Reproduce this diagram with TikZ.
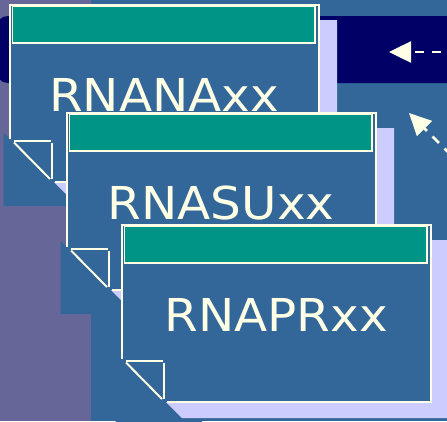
\documentclass[tikz,border=0pt]{standalone}
\usepackage{fontspec}
\newfontfamily\labfont{DejaVu Sans}
\usetikzlibrary{arrows.meta}
\definecolor{bgpurple}{HTML}{666699}
\definecolor{bgblue}{HTML}{336699}
\definecolor{navyband}{HTML}{000066}
\definecolor{tealbar}{HTML}{009486}
\definecolor{shadowlav}{HTML}{CCCCFF}
\definecolor{creamc}{HTML}{FFFFE6}
\tikzset{
  cardline/.style={draw=creamc, line width=2pt},
  titlebar/.style={fill=tealbar, draw=creamc, line width=1.5pt},
  cardtext/.style={text=creamc, font=\labfont\fontsize{45.3}{50}\selectfont, xscale=1.07, anchor=base, inner sep=0pt},
  dasharrow/.style={draw=creamc, line width=2.5pt, dash pattern=on 9pt off 8pt, -{Triangle[length=22pt,width=21pt]}},
  doccard/.pic={
    \fill[bgblue] (-6.5,127.5) -- (43,177) -- (80,177) -- (80,201) -- (-6.5,201) -- cycle;
    \fill[shadowlav] (17,15) -- (327,15) -- (327,193) -- (60,193) -- (17,150) -- cycle;
    \fill[bgblue] (0,0) -- (309,0) -- (309,177) -- (43,177) -- (0,134) -- cycle;
    \draw[cardline] (0,134) -- (0,0) -- (309,0) -- (309,177) -- (45,177);
    \draw[titlebar] (2.25,1.5) rectangle (305,38);
    \draw[cardline] (4,136) -- (41,136);
    \draw[cardline] (42,137.5) -- (42,174);
    \draw[cardline] (4,137.5) -- (40,174);
    \node[cardtext] (-label) at (154,106) {#1};
  }
}
\begin{document}
\begin{tikzpicture}[x=1pt,y=-1pt]
  \useasboundingbox (0,0) rectangle (447,421);
  \clip (0,0) rectangle (447,421);
  \fill[bgpurple] (0,0) rectangle (447,421);
  \fill[bgblue] (91,0) rectangle (447,421);
  \fill[navyband, rounded corners=12pt] (-4,16) rectangle (480,83);
  \pic (c1) at (10,5) {doccard=RNANAxx};
  \pic (c2) at (67,113) {doccard=RNASUxx};
  \pic (c3) at (122,225) {doccard=RNAPRxx};
  \coordinate (a1s) at (475,52);
  \coordinate (a1e) at (389,52);
  \coordinate (a2s) at (475,179);
  \coordinate (a2e) at (409,113);
  \draw[dasharrow] (a1s) -- (a1e);
  \draw[dasharrow] (a2s) -- (a2e);
\end{tikzpicture}
\end{document}
